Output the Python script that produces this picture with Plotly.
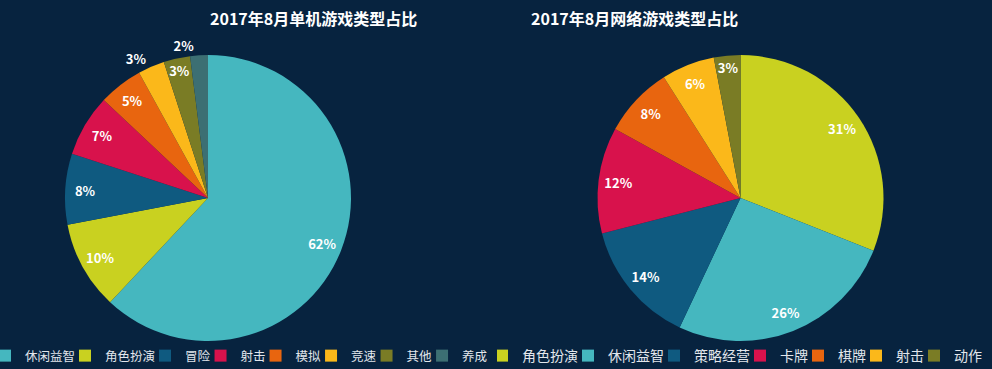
import plotly.graph_objects as go

# Data
title_left = "2017年8月单机游戏类型占比"
labels_left = ["休闲益智", "角色扮演", "冒险", "射击", "模拟", "竞速", "其他", "养成"]
values_left = [62, 10, 8, 7, 5, 3, 3, 2]

title_right = "2017年8月网络游戏类型占比"
labels_right = ["角色扮演", "休闲益智", "策略经营", "卡牌", "棋牌", "射击", "动作"]
values_right = [31, 26, 14, 12, 8, 6, 3]

colors_left = ["#45b7bf", "#c9d120", "#0f5a80", "#d8124c", "#e8650f", "#fbb81a", "#7a7c25", "#3c6f73"]
colors_right = ["#c9d120", "#45b7bf", "#0f5a80", "#d8124c", "#e8650f", "#fbb81a", "#7a7c25"]
# label placement per slice (two text layers on the left so the outside labels don't collide)
pos_left_a = ["inside"] * 5 + ["outside", "inside", "none"]
pos_left_b = ["none"] * 7 + ["outside"]
pos_right = ["inside"] * 7

W, H = 992, 369
BG = "#07233f"
FONT = "Noto Sans CJK SC"

def px_x(x):
    return x / W

def px_y(y):
    return 1 - y / H

# separate legend entries for the right chart (pie legends are shared by label)
names_right = [l + "\u200b" for l in labels_right]

dom_left = dict(x=[px_x(65), px_x(351)], y=[px_y(341), px_y(55)])
dom_right = dict(x=[px_x(597), px_x(884)], y=[px_y(341), px_y(55)])

fig = go.Figure()
# coloured pies (legend)
fig.add_trace(go.Pie(
    labels=labels_left, values=values_left, sort=False, direction="clockwise", rotation=0,
    marker=dict(colors=colors_left, line=dict(width=0)), textinfo="none",
    domain=dom_left, legend="legend", hoverinfo="label+percent",
))
fig.add_trace(go.Pie(
    labels=names_right, values=values_right, sort=False, direction="clockwise", rotation=0,
    marker=dict(colors=colors_right, line=dict(width=0)), textinfo="none",
    domain=dom_right, legend="legend2", hoverinfo="label+percent",
))
# transparent ring pies carrying the percentage labels near the rim
for labels, values, pos, dom in [(labels_left, values_left, pos_left_a, dom_left),
                                 (labels_left, values_left, pos_left_b, dom_left),
                                 (names_right, values_right, pos_right, dom_right)]:
    fig.add_trace(go.Pie(
        labels=labels, values=values, sort=False, direction="clockwise", rotation=0,
        hole=0.72, showlegend=False, hoverinfo="skip",
        marker=dict(colors=["rgba(0,0,0,0)"] * len(values), line=dict(width=0)),
        textposition=pos, texttemplate="<b>%{value}%</b>",
        insidetextorientation="horizontal",
        textfont=dict(family=FONT, size=13, color="white"),
        domain=dom,
    ))

fig.update_layout(
    width=W, height=H,
    paper_bgcolor=BG, plot_bgcolor=BG,
    margin=dict(l=0, r=0, t=0, b=0, autoexpand=False),
    font=dict(family=FONT, color="#dde3ea"),
    uniformtext=dict(minsize=13, mode="show"),
    legend=dict(orientation="h", x=0.0, xanchor="left", y=px_y(356), yanchor="middle",
                font=dict(size=12.5, color="#e2e6ec"), indentation=-15,
                bgcolor="rgba(0,0,0,0)", itemclick=False),
    legend2=dict(orientation="h", x=px_x(497), xanchor="left", y=px_y(356), yanchor="middle",
                 font=dict(size=14, color="#e2e6ec"), indentation=-15,
                 bgcolor="rgba(0,0,0,0)", itemclick=False),
    annotations=[
        dict(text=f"<b>{title_left}</b>", x=px_x(208), y=px_y(18), xref="paper", yref="paper",
             yanchor="middle", showarrow=False, font=dict(size=16, color="white", family=FONT)),
        dict(text=f"<b>{title_right}</b>", x=px_x(740), y=px_y(18), xref="paper", yref="paper",
             yanchor="middle", showarrow=False, font=dict(size=16, color="white", family=FONT)),
    ],
)

fig.write_html("out.html", config={"displayModeBar": False},
               post_script="document.body.style.margin='0';document.body.style.overflow='hidden';")
